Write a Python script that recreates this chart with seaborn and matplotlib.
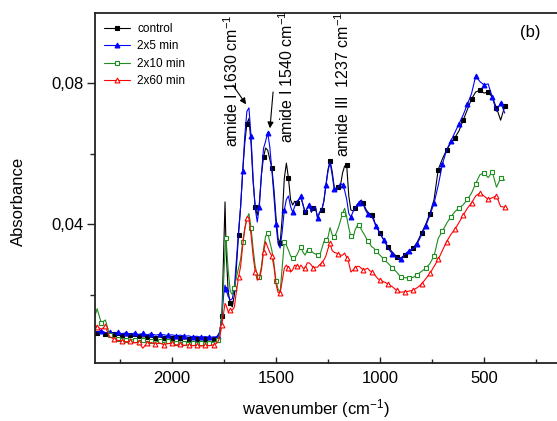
import numpy as np
import matplotlib
matplotlib.use("Agg")
import matplotlib.pyplot as plt
from matplotlib.lines import Line2D
from matplotlib.ticker import MultipleLocator, FuncFormatter
import seaborn as sns

# wavenumber grid (cm-1): coarse at the ends, finer in the amide region
wavenumber = np.concatenate([[2370], np.arange(2360, 1799, -20),
                             np.arange(1790, 1749, -10), [1745],
                             np.arange(1740, 999, -10), np.arange(980, 399, -20)])

# absorbance values x 1e-3
control = [9.2, 9.0, 9.4, 8.8, 8.6, 8.7, 8.4, 8.5, 8.3, 8.4, 8.1, 8.2, 8.0, 8.1, 7.9,
           7.8, 8.0, 7.7, 7.8, 7.6, 7.5, 7.6, 7.4, 7.5, 7.3, 7.4, 7.2, 7.3, 7.2, 7.4,
           7.5, 7.8, 9.5, 14, 36, 46.3, 33, 21, 17.5, 16.5,
           20, 28, 37, 45, 55, 63, 68.5, 70, 63, 52,
           45, 42.5, 46, 54, 59, 61.6, 61, 58.5, 56, 50,
           42, 36, 34.6, 42, 53, 57.3, 53, 47, 45.4, 46.5,
           46, 47, 47.5, 45.5, 43.5, 44.5, 45.4, 43.4, 44.5, 44.8,
           41.7, 43.4, 44, 46.5, 51, 55.5, 58, 55, 50.5, 49.5,
           50.5, 51, 54.5, 56.5, 56.7, 48, 44, 43.8, 44.5, 45.5,
           46.3, 46.8, 46, 44.5, 43.5, 42.8, 42.6, 41.5, 39.5, 38.5, 37.5,
           35.2, 33.5, 32, 30.8, 30.4, 31.2, 32.2, 33.2, 35, 37.5,
           40, 43, 47, 55.5, 58.5, 61, 63, 64.5, 66.5, 69.5,
           72.5, 75.5, 77.5, 78, 77.2, 77.5, 76, 73, 69.5, 73.5]

min_2x5 = [9.6, 9.4, 9.8, 9.2, 9.3, 9.0, 9.3, 8.9, 9.2, 8.8, 9.1, 8.7, 9.0, 8.6, 8.9,
           8.5, 8.7, 8.6, 8.4, 8.6, 8.3, 8.5, 8.2, 8.3, 8.0, 8.2, 7.9, 8.1, 7.9, 8.0,
           8.0, 8.3, 9.5, 14, 21, 22.7, 21.5, 19.5, 18.5, 18.8,
           22, 30, 38, 45, 55, 65, 72, 73, 65, 53,
           44.5, 40.6, 45, 54, 61.5, 63.5, 66, 62, 55.5, 48,
           40, 34.5, 33.2, 38, 44, 47, 48, 45, 43.4, 45,
           46.5, 47, 48, 45.5, 43, 44.5, 45.4, 43.4, 44.5, 44.8,
           41.7, 43.4, 44, 46.5, 51, 55, 57.6, 54, 50, 49.5,
           50.5, 51.6, 51, 49.6, 47, 43, 42, 43.5, 44.5, 45.5,
           46, 46.8, 45.5, 44, 43, 42.6, 42.3, 41, 39.5, 38.5, 37.2,
           35.5, 33, 31.5, 30.5, 30, 31.5, 32.5, 33, 34.5, 37,
           39.5, 42.5, 46, 51, 57, 61, 63.5, 66, 68.5, 71,
           74, 77, 82, 80.5, 79.5, 79.8, 76, 72, 74.5, 71.5]

min_2x10 = [14.0, 16.0, 12.0, 12.8, 8.5, 7.8, 7.5, 7.6, 7.2, 7.4, 7.0, 6.8, 7.2, 6.6, 6.8,
            6.5, 6.9, 6.4, 6.7, 6.8, 6.3, 6.6, 6.2, 6.5, 6.3, 6.5, 6.2, 6.4, 6.3, 6.5,
            6.6, 7.0, 9, 14, 26, 33, 36, 27, 21, 20,
            22, 25, 27.5, 30, 35, 38.9, 41.5, 43, 39, 33,
            28, 25.5, 25, 28, 33, 36.5, 37.5, 35, 32.6, 29,
            24, 21.5, 20.7, 28, 35, 34, 32.6, 31, 30.3, 30.5,
            31.2, 32.5, 33.5, 32, 31.2, 32.6, 32.6, 32.4, 31.8, 31.5,
            31.2, 31, 33, 35, 35.5, 36.3, 39, 37, 36.3, 37.5,
            39, 41, 43, 44.5, 42, 38.9, 36.5, 36, 38.3, 39.5,
            39.7, 38.5, 37.5, 36.5, 35.2, 34.5, 33.6, 33.2, 32.5, 31.8, 31.2,
            30, 28.8, 27.6, 26.4, 25, 24.8, 24.7, 24.9, 25.7, 26.6,
            27.5, 28.8, 31, 36, 38, 40.2, 42, 43.5, 44.6, 45.5,
            47, 48.8, 51.5, 54, 54.6, 53.2, 54.8, 50.5, 53, 52.5]

min_2x60 = [11.5, 10.8, 10.2, 11.0, 8.0, 7.5, 7.0, 6.9, 6.6, 6.8, 6.3, 6.5, 4.8, 6.2, 6.4,
            6.0, 6.3, 5.8, 6.1, 6.2, 5.7, 5.9, 5.6, 5.8, 5.5, 5.7, 5.4, 5.6, 5.5, 5.8,
            6.0, 6.5, 8, 11.5, 15.5, 17.5, 17, 15.2, 15.5, 15.6,
            16.5, 21, 25, 28, 34, 38.5, 41.7, 41.5, 37, 31,
            26.5, 24.1, 24.5, 27, 32, 35, 33.5, 32, 31, 28,
            23, 20.6, 20.4, 24, 27.5, 28.4, 27.5, 26.4, 27, 28.4,
            28, 27.5, 28.4, 27.5, 27.5, 29, 29, 28.4, 27.5, 27.8,
            27.8, 28.5, 29, 29.8, 31, 33, 34.6, 32.5, 32, 31.8,
            31.5, 31.2, 31.2, 31.8, 30.5, 29, 26.4, 27, 27.5, 28,
            28, 27.5, 27, 27.2, 27.5, 26.8, 26.5, 26, 25.2, 24.5, 24.1,
            23.6, 23, 22.2, 21.2, 20.7, 20.8, 21, 21.3, 22, 23,
            24.5, 26, 28, 30, 32.5, 35, 37, 38.5, 40.5, 42.5,
            44.5, 46, 48, 48.8, 48, 47, 47.5, 48, 45, 44.8]

labels = ["control", "2x5 min", "2x10 min", "2x60 min"]

sns.set_theme(style="white")
plt.rcParams["font.family"] = ["Liberation Sans", "DejaVu Sans"]
plt.rcParams["mathtext.fontset"] = "custom"
plt.rcParams["mathtext.rm"] = "Liberation Sans"
plt.rcParams["mathtext.it"] = "Liberation Sans:italic"
plt.rcParams["mathtext.bf"] = "Liberation Sans:bold"
for key in ["text.color", "axes.labelcolor", "xtick.color", "ytick.color"]:
    plt.rcParams[key] = "black"

fig = plt.figure(figsize=(5.57, 4.21), dpi=100)
ax = fig.add_axes([0.1706, 0.1378, 0.8294, 0.8312])

series = [
    (control, "black", "s", "black", 0),
    (min_2x5, "blue", "^", "blue", 20),
    (min_2x10, "#1f8c1f", "s", "white", 20),
    (min_2x60, "red", "^", "white", 0),
]
handles = []
for (vals, col, mk, face, off), lab in zip(series, labels):
    y = np.array(vals) / 1000
    mask = list((wavenumber % 40) == off)
    sns.lineplot(x=wavenumber, y=y, ax=ax, sort=False, estimator=None,
                 color=col, lw=0.8, marker=mk, markevery=mask, markersize=3.5,
                 markerfacecolor=face, markeredgecolor=col, markeredgewidth=0.8)
    handles.append(Line2D([], [], color=col, lw=0.8, marker=mk, markersize=3.5,
                          markerfacecolor=face, markeredgecolor=col,
                          markeredgewidth=0.8))

ax.set_xlim(2370, 149)
ax.set_ylim(0.0006, 0.0999)

ax.xaxis.set_major_locator(MultipleLocator(500))
ax.xaxis.set_minor_locator(MultipleLocator(250))
ax.yaxis.set_major_locator(MultipleLocator(0.04))
ax.yaxis.set_minor_locator(MultipleLocator(0.02))
ax.yaxis.set_major_formatter(FuncFormatter(lambda v, p: f"{v:.2f}".replace(".", ",")))

ax.tick_params(axis="x", which="major", direction="in", length=4.3, width=1, pad=5.5,
               labelsize=12, bottom=True, color="#222222")
ax.tick_params(axis="x", which="minor", direction="in", length=2.8, width=1, bottom=True,
               color="#222222")
ax.tick_params(axis="y", which="major", direction="out", length=5.5, width=1, pad=3,
               labelsize=12, left=True, color="#222222")
ax.tick_params(axis="y", which="minor", direction="out", length=3.5, width=1, left=True,
               color="#222222")

for s in ["left", "bottom", "top"]:
    ax.spines[s].set_color("#222222")
    ax.spines[s].set_linewidth(1.3)
ax.spines["right"].set_visible(False)

ax.set_xlabel("wavenumber (cm$^{-1}$)", fontsize=12)
ax.xaxis.set_label_coords(0.478, -0.098)
ax.set_ylabel("Absorbance", fontsize=12)
ax.yaxis.set_label_coords(-0.15, 0.463)

ax.legend(handles, labels, loc="upper left", bbox_to_anchor=(0.01, 0.985),
          frameon=False, fontsize=8.5, handlelength=2.2, labelspacing=0.45,
          borderaxespad=0, handletextpad=0.6)

ax.text(1712, 0.062, "amide I 1630 cm$^{-1}$", rotation=90, ha="center", va="bottom",
        fontsize=11.5)
ax.text(1447, 0.063, "amide I 1540 cm$^{-1}$", rotation=90, ha="center", va="bottom",
        fontsize=11.5)
ax.text(1178, 0.059, "amide III  1237 cm$^{-1}$", rotation=90, ha="center", va="bottom",
        fontsize=11.5)
ax.annotate("", xy=(1644, 0.0740), xytext=(1707, 0.0794),
            arrowprops=dict(arrowstyle="-|>", color="black", lw=0.8,
                            mutation_scale=9, shrinkA=0, shrinkB=0))
ax.annotate("", xy=(1529, 0.0672), xytext=(1514, 0.0775),
            arrowprops=dict(arrowstyle="-|>", color="black", lw=0.8,
                            mutation_scale=9, shrinkA=0, shrinkB=0))

ax.text(0.9416, 0.943, "(b)", transform=ax.transAxes, ha="center", va="center",
        fontsize=12)

fig.savefig("out.png", dpi=100)
